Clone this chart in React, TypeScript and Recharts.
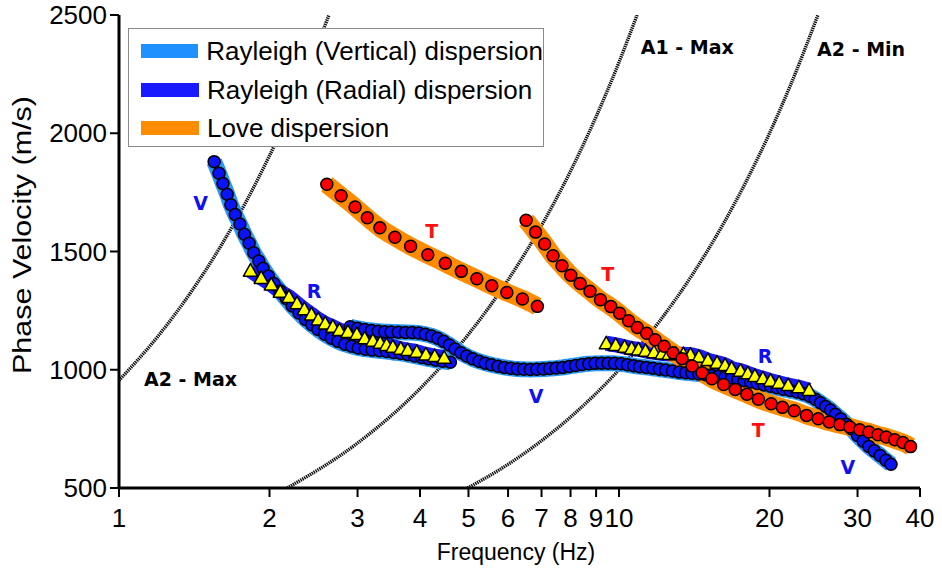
import { ComposedChart, Scatter, XAxis, YAxis } from "recharts";

const X_TICKS = [1, 2, 3, 4, 5, 6, 7, 8, 9, 10, 20, 30, 40];
const Y_TICKS = [500, 1000, 1500, 2000, 2500];

// Rayleigh vertical, low-frequency branch
const RV1_F = [1.55, 1.585, 1.614, 1.646, 1.674, 1.708, 1.745, 1.782, 1.821, 1.86, 1.904, 1.942, 1.99, 2.04, 2.1, 2.16, 2.22, 2.29, 2.36, 2.43, 2.5, 2.58, 2.66, 2.74, 2.83, 2.92, 3.01, 3.11, 3.21, 3.32, 3.43, 3.54, 3.66, 3.78, 3.9, 4.03, 4.16, 4.3, 4.44, 4.6];
const RV1_V = [1880, 1831, 1787, 1742, 1698, 1656, 1616, 1573, 1535, 1495, 1460, 1429, 1396, 1365, 1332, 1300, 1270, 1240, 1213, 1190, 1170, 1150, 1133, 1120, 1108, 1099, 1092, 1087, 1083, 1080, 1077, 1073, 1069, 1064, 1058, 1052, 1046, 1040, 1036, 1032];

// Rayleigh vertical, main branch
const RV2_F = [2.9, 3.0, 3.1, 3.2, 3.3, 3.4, 3.5, 3.62, 3.74, 3.86, 3.98, 4.1, 4.22, 4.34, 4.46, 4.58, 4.7, 4.83, 4.96, 5.1, 5.25, 5.4, 5.56, 5.73, 5.9, 6.08, 6.26, 6.45, 6.65, 6.85, 7.06, 7.27, 7.49, 7.72, 7.95, 8.19, 8.44, 8.7, 8.96, 9.23, 9.51, 9.8, 10.1, 10.4, 10.7, 11.0, 11.35, 11.7, 12.05, 12.4, 12.8, 13.2, 13.6, 14.0, 14.45, 14.9, 15.35, 15.8, 16.3, 16.8, 17.3, 17.8, 18.35, 18.9, 19.5, 20.1, 20.7, 21.3, 22.0, 22.7, 23.4, 24.1, 24.7, 25.3, 25.9, 26.5, 27.1, 27.8, 28.5, 29.2, 30.0, 30.8, 31.6, 32.4, 33.3, 34.2, 35.0];
const RV2_V = [1182, 1175, 1170, 1166, 1163, 1161, 1160, 1159, 1158, 1157, 1155, 1150, 1143, 1133, 1120, 1105, 1088, 1072, 1058, 1046, 1036, 1028, 1021, 1015, 1010, 1006, 1003, 1002, 1001, 1002, 1003, 1005, 1007, 1010, 1014, 1018, 1022, 1025, 1027, 1028, 1028, 1027, 1025, 1021, 1017, 1013, 1010, 1006, 1002, 999, 995, 990, 987, 985, 982, 979, 976, 972, 969, 964, 959, 954, 948, 942, 936, 930, 924, 918, 912, 906, 898, 888, 875, 860, 845, 830, 812, 792, 770, 750, 722, 698, 676, 657, 637, 617, 600];

// Rayleigh radial
const RR1_F = [1.832, 1.925, 2.016, 2.102, 2.188, 2.27, 2.348, 2.427, 2.503, 2.585, 2.678, 2.76, 2.87, 2.99, 3.1, 3.22, 3.33, 3.43, 3.53, 3.66, 3.78, 3.94, 4.11, 4.28, 4.47];
const RR1_V = [1419, 1388, 1360, 1330, 1308, 1281, 1256, 1234, 1213, 1196, 1182, 1168, 1160, 1151, 1133, 1123, 1114, 1105, 1097, 1089, 1083, 1076, 1065, 1058, 1051];
const RR2_F = [9.43, 9.85, 10.26, 10.6, 10.94, 11.3, 11.75, 12.2, 12.6, 13.0, 13.45, 13.9, 14.45, 15.06, 15.71, 16.3, 16.8, 17.5, 18.1, 18.7, 19.4, 20.1, 20.9, 21.8, 22.9, 24.0];
const RR2_V = [1112, 1105, 1097, 1090, 1086, 1080, 1074, 1069, 1067, 1066, 1066, 1064, 1055, 1041, 1030, 1020, 1006, 996, 985, 974, 964, 954, 945, 935, 926, 914];

// Love
const L1_F = [2.604, 2.781, 2.966, 3.138, 3.325, 3.563, 3.83, 4.146, 4.494, 4.838, 5.196, 5.567, 5.966, 6.41, 6.867];
const L1_V = [1784, 1736, 1688, 1643, 1600, 1560, 1522, 1486, 1450, 1416, 1385, 1355, 1327, 1299, 1268];
const L2_F = [6.52, 6.81, 7.1, 7.38, 7.69, 8.01, 8.36, 8.75, 9.18, 9.63, 10.03, 10.45, 10.88, 11.36, 11.81, 12.31, 12.83, 13.37, 14.0, 14.66, 15.34, 16.19, 17.08, 18.02, 19.0, 20.15, 21.22, 22.41, 23.72, 25.03, 26.33, 27.65, 28.94, 30.3, 31.62, 32.95, 34.23, 35.6, 36.97, 38.3];
const L2_V = [1632, 1582, 1532, 1482, 1440, 1400, 1365, 1332, 1296, 1267, 1239, 1207, 1179, 1154, 1127, 1099, 1072, 1047, 1016, 987, 962, 938, 917, 896, 875, 856, 841, 827, 807, 793, 779, 768, 758, 746, 737, 725, 716, 704, 692, 675];

// reference curves
const A2MAX_F = [1.0, 1.2, 1.4, 1.6, 1.8, 2.0, 2.2, 2.4, 2.63];
const A2MAX_V = [955, 1145, 1335, 1525, 1715, 1905, 2095, 2285, 2500];
const A1MAX_F = [2.17, 3, 4, 5, 6, 7, 8, 9, 10, 10.87];
const A1MAX_V = [500, 690, 920, 1150, 1380, 1610, 1840, 2070, 2300, 2500];
const A2MIN_F = [4.98, 6, 7, 8, 10, 12, 14, 16, 18, 20, 22, 25];
const A2MIN_V = [500, 600, 700, 800, 1000, 1200, 1400, 1600, 1800, 2000, 2200, 2500];

const NOTES = [
  { f: 1.457, v: 1705, text: "V", color: "#1010f0" },
  { f: 2.456, v: 1333, text: "R", color: "#1010f0" },
  { f: 4.22, v: 1587, text: "T", color: "#ff1010" },
  { f: 9.49, v: 1405, text: "T", color: "#ff1010" },
  { f: 6.83, v: 889, text: "V", color: "#1010f0" },
  { f: 19.6, v: 1058, text: "R", color: "#1010f0" },
  { f: 19.0, v: 745, text: "T", color: "#ff1010" },
  { f: 28.7, v: 589, text: "V", color: "#1010f0" },
  { f: 1.39, v: 961, text: "A2 - Max", color: "#000" },
  { f: 13.7, v: 2365, text: "A1 - Max", color: "#000" },
  { f: 30.5, v: 2356, text: "A2 - Min", color: "#000" },
];

const LEGEND = [
  { name: "Rayleigh (Vertical) dispersion", color: "#1e90ff" },
  { name: "Rayleigh (Radial) dispersion", color: "#1a1aff" },
  { name: "Love dispersion", color: "#ff8c00" },
];

const pts = (f: number[], v: number[]) => f.map((x, i) => ({ f: x, v: v[i] }));

const FONT = "'Liberation Sans', Arial, sans-serif";
const NOTE_FONT = "'DejaVu Sans', sans-serif";

const none = () => <g />;
const circle = (fill: string) => (p: any) => (
  <circle cx={p.cx} cy={p.cy} r={6} fill={fill} stroke="#000" strokeWidth={1.5} />
);
const triangle = (p: any) => (
  <path
    d={`M${p.cx},${p.cy - 7} L${p.cx + 7},${p.cy + 5.5} L${p.cx - 7},${p.cy + 5.5} Z`}
    fill="#ffff00" stroke="#000" strokeWidth={1.5} strokeLinejoin="round"
  />
);
const note = (p: any) => {
  const d = p.payload;
  return (
    <text x={p.cx} y={p.cy} textAnchor="middle" dominantBaseline="central"
      fill={d.color} fontFamily={NOTE_FONT} fontWeight="bold" fontSize={19}>
      {d.text}
    </text>
  );
};

const band = (data: any[], color: string, w: number) => (
  <Scatter data={data} shape={none} line={{ stroke: color, strokeWidth: w }}
    lineJointType="monotoneX" isAnimationActive={false} />
);

const AXIS_LINE = { stroke: "#000", strokeWidth: 3 };
const TICK_LINE = { stroke: "#000", strokeWidth: 2 };
const TICK = { fill: "#000", fontSize: 26, fontFamily: FONT };

export default function App() {
  const rv1 = pts(RV1_F, RV1_V);
  const rv2 = pts(RV2_F, RV2_V);
  const rr1 = pts(RR1_F, RR1_V);
  const rr2 = pts(RR2_F, RR2_V);
  const l1 = pts(L1_F, L1_V);
  const l2 = pts(L2_F, L2_V);
  return (
    <div style={{ position: "absolute", left: 0, top: 0, width: 942, height: 569, background: "#fff" }}>
      <ComposedChart width={942} height={569} margin={{ top: 15, right: 22, bottom: 0, left: 0 }}>
        <XAxis type="number" dataKey="f" scale="log" domain={[1, 40]} ticks={X_TICKS} interval={0}
          allowDataOverflow height={81} axisLine={AXIS_LINE} tickLine={TICK_LINE} tickSize={9}
          tickMargin={12} tick={TICK}
          label={{
            content: () => (
              <text x={516} y={560} textAnchor="middle" fontFamily={FONT} fontSize={23} fill="#000">
                Frequency (Hz)
              </text>
            ),
          }} />
        <XAxis xAxisId="top" orientation="top" type="number" scale="log" domain={[1, 40]}
          ticks={X_TICKS} interval={0} allowDataOverflow height={0} axisLine={AXIS_LINE}
          tickLine={TICK_LINE} tickSize={8} tick={false} />
        <YAxis type="number" dataKey="v" domain={[500, 2500]} ticks={Y_TICKS} interval={0}
          allowDataOverflow width={119} axisLine={AXIS_LINE} tickLine={TICK_LINE} tickSize={9}
          tickMargin={3} tick={TICK}
          label={{
            content: () => (
              <text x={31} y={235} transform="rotate(-90 31 235)" textAnchor="middle"
                textLength={278} lengthAdjust="spacingAndGlyphs"
                fontFamily={FONT} fontSize={25} fill="#000">
                Phase Velocity (m/s)
              </text>
            ),
          }} />
        <YAxis yAxisId="right" orientation="right" type="number" domain={[500, 2500]}
          ticks={Y_TICKS} interval={0} allowDataOverflow width={0} axisLine={AXIS_LINE}
          tickLine={TICK_LINE} tickSize={8} tick={false} />

        {[
          [A2MAX_F, A2MAX_V],
          [A1MAX_F, A1MAX_V],
          [A2MIN_F, A2MIN_V],
        ].map(([f, v], i) => (
          <Scatter key={i} data={pts(f, v)} shape={none}
            line={{ stroke: "#111", strokeWidth: 3.4, strokeDasharray: "1.4 0.8" }}
            lineJointType="monotoneX" isAnimationActive={false} />
        ))}

        {band(rv1, "#2a98f5", 16)}
        {band(rv2, "#2a98f5", 16)}
        {band(rr1, "#1a1aff", 15)}
        {band(rr2, "#1a1aff", 15)}
        {band(l1, "#ff8c00", 18)}
        {band(l2, "#ff8c00", 18)}

        <Scatter data={rv1} shape={circle("#0a14f5")} isAnimationActive={false} />
        <Scatter data={rv2} shape={circle("#0a14f5")} isAnimationActive={false} />
        <Scatter data={rr1} shape={triangle} isAnimationActive={false} />
        <Scatter data={rr2} shape={triangle} isAnimationActive={false} />
        <Scatter data={l1} shape={circle("#ff0000")} isAnimationActive={false} />
        <Scatter data={l2} shape={circle("#ff0000")} isAnimationActive={false} />
        <Scatter data={NOTES} dataKey="v" shape={note} isAnimationActive={false} />
      </ComposedChart>

      <div style={{
        position: "absolute", left: 128, top: 28, width: 416, height: 119, boxSizing: "border-box",
        border: "1px solid #8a8a8a", background: "#fff", fontFamily: FONT, fontSize: 26,
        paddingTop: 3,
      }}>
        {LEGEND.map((l) => (
          <div key={l.name} style={{ display: "flex", alignItems: "center", height: 38.5 }}>
            <div style={{ width: 58, height: 14, background: l.color, marginLeft: 12, marginRight: 8 }} />
            <span style={{ whiteSpace: "nowrap", lineHeight: 1 }}>{l.name}</span>
          </div>
        ))}
      </div>
    </div>
  );
}
